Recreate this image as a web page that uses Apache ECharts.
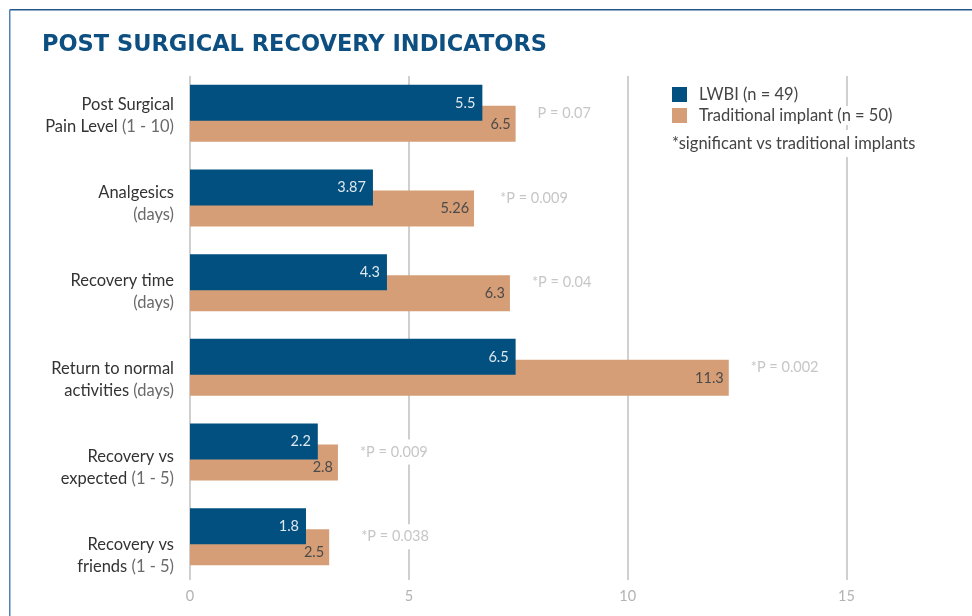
<!DOCTYPE html>
<html><head><meta charset="utf-8">
<script src="https://cdn.jsdelivr.net/npm/echarts@6/dist/echarts.min.js"></script>
<style>html,body{margin:0;padding:0;background:#fff}#c{width:972px;height:616px}</style>
</head><body><div id="c"></div>
<script>
// ---- data ----
const categories = [
  'Post Surgical\nPain Level (1 - 10)',
  'Analgesics\n(days)',
  'Recovery time\n(days)',
  'Return to normal\nactivities (days)',
  'Recovery vs\nexpected (1 - 5)',
  'Recovery vs\nfriends (1 - 5)'
];
const seriesNames = ['LWBI (n = 49)', 'Traditional implant (n = 50)'];
// values printed on the bars
const lwbiValues = [5.5, 3.87, 4.3, 6.5, 2.2, 1.8];
const traditionalValues = [6.5, 5.26, 6.3, 11.3, 2.8, 2.5];
// bar lengths as actually drawn in the reference, read against its axis
const lwbiDrawn = [6.68, 4.18, 4.50, 7.44, 2.92, 2.65];
const traditionalDrawn = [7.44, 6.49, 7.31, 12.31, 3.38, 3.18];
const pValues = ['P = 0.07', '*P = 0.009', '*P = 0.04', '*P = 0.002', '*P = 0.009', '*P = 0.038'];
const footnote = '*significant vs traditional implants';
const titleText = 'POST SURGICAL RECOVERY INDICATORS';
const xMin = 0, xMax = 15, xStep = 5;

// ---- chart ----
const BLUE = '#02507f', ORANGE = '#d69e76';
function fmtCat(s) {
  return s.split('\n').map(line => line.replace(/^(.*?)(\s*\([^)]*\))?$/, (m, a, b) =>
    (a ? '{m|' + a + '}' : '') + (b ? '{u|' + b + '}' : ''))).join('\n');
}
const pGap = {1: 23, 5: 29};
const orangeNudge = {4: 5, 5: 5};

const chart = echarts.init(document.getElementById('c'), null, {renderer: 'canvas'});
chart.setOption({
  animation: false,
  backgroundColor: '#fff',
  title: {
    text: titleText, left: 42, top: 34, padding: 0,
    textStyle: {fontFamily: 'DejaVu Sans', fontWeight: 'bold', fontSize: 22.5, color: '#0d4f81'}
  },
  legend: {
    data: seriesNames, orient: 'vertical', left: 672, top: 85, padding: 0,
    itemWidth: 15, itemHeight: 15, itemGap: 2, icon: 'rect',
    textStyle: {fontFamily: 'Lato', fontSize: 16.5, color: '#444', backgroundColor: '#fff', padding: [1, 0, 1, 7]}
  },
  grid: [
    {left: 190, width: 656.5, top: 71, height: 508},
    {left: 190, width: 656.5, top: 76, height: 504},
    {left: 190, width: 656.5, top: 72, height: 528}
  ],
  xAxis: [
    {gridIndex: 0, type: 'value', min: xMin, max: xMax, show: false},
    {gridIndex: 1, type: 'value', min: xMin, max: xMax, interval: xStep,
      axisLine: {show: false}, axisTick: {show: false},
      splitLine: {show: true, lineStyle: {color: '#c4c4c4', width: 1.6}},
      axisLabel: {margin: 9, color: '#b3b3b3', fontSize: 14.5, fontFamily: 'Lato'}},
    {gridIndex: 2, type: 'value', min: xMin, max: xMax, show: false}
  ],
  yAxis: [
    {gridIndex: 0, type: 'category', data: categories, inverse: true, show: false},
    {gridIndex: 0, type: 'category', data: categories, inverse: true, show: false},
    {gridIndex: 1, type: 'value', min: 0, max: 1, show: false},
    {gridIndex: 2, type: 'category', data: categories, inverse: true,
      axisLine: {show: false}, axisTick: {show: false}, splitLine: {show: false},
      axisLabel: {
        margin: 16, formatter: fmtCat,
        rich: {
          m: {fontFamily: 'Lato', fontSize: 16.5, color: '#333', lineHeight: 22},
          u: {fontFamily: 'Lato', fontSize: 16.5, color: '#6a6a6a', lineHeight: 22}
        }
      }}
  ],
  series: [
    {
      name: seriesNames[0], type: 'bar', xAxisIndex: 0, yAxisIndex: 0,
      data: lwbiDrawn, barWidth: 36, barGap: '-41.67%', z: 3,
      itemStyle: {color: BLUE},
      label: {show: true, position: 'insideRight', distance: 7,
        formatter: p => String(lwbiValues[p.dataIndex]),
        color: '#dfe7ef', fontSize: 14.5, fontFamily: 'Lato'}
    },
    {
      name: seriesNames[1], type: 'bar', xAxisIndex: 0, yAxisIndex: 0,
      data: traditionalDrawn.map((v, i) => orangeNudge[i] ? {value: v, label: {offset: [0, orangeNudge[i]]}} : v),
      barWidth: 36, barGap: '-41.67%', z: 2,
      itemStyle: {color: ORANGE},
      label: {show: true, position: 'insideRight', distance: 5,
        formatter: p => String(traditionalValues[p.dataIndex]),
        color: '#4a4a4a', fontSize: 14.5, fontFamily: 'Lato'}
    },
    {
      name: 'p', type: 'bar', xAxisIndex: 0, yAxisIndex: 1, silent: true,
      data: traditionalDrawn.map((v, i) => pGap[i] ? {value: v, label: {distance: pGap[i]}} : v),
      barWidth: 36, z: 2,
      itemStyle: {color: 'rgba(0,0,0,0)'},
      label: {show: true, position: 'right', distance: 19,
        formatter: p => pValues[p.dataIndex],
        color: '#c6c6c6', fontSize: 14.5, fontFamily: 'Lato',
        backgroundColor: '#fff', padding: [5, 3]}
    }
  ],
  graphic: [
    {type: 'line', shape: {x1: 9.75, y1: 9.75, x2: 972, y2: 9.75}, style: {stroke: '#24578a', lineWidth: 1.5}, z: 10},
    {type: 'line', shape: {x1: 9.75, y1: 9.75, x2: 9.75, y2: 616}, style: {stroke: '#4f83b3', lineWidth: 1.5}, z: 10},
    {type: 'text', x: 672, y: 143.5, z: 10,
      style: {text: footnote, fontFamily: 'Lato', fontSize: 16.5, fill: '#444', verticalAlign: 'middle',
        backgroundColor: '#fff', padding: [5, 0]}}
  ]
});
</script>
</body></html>
